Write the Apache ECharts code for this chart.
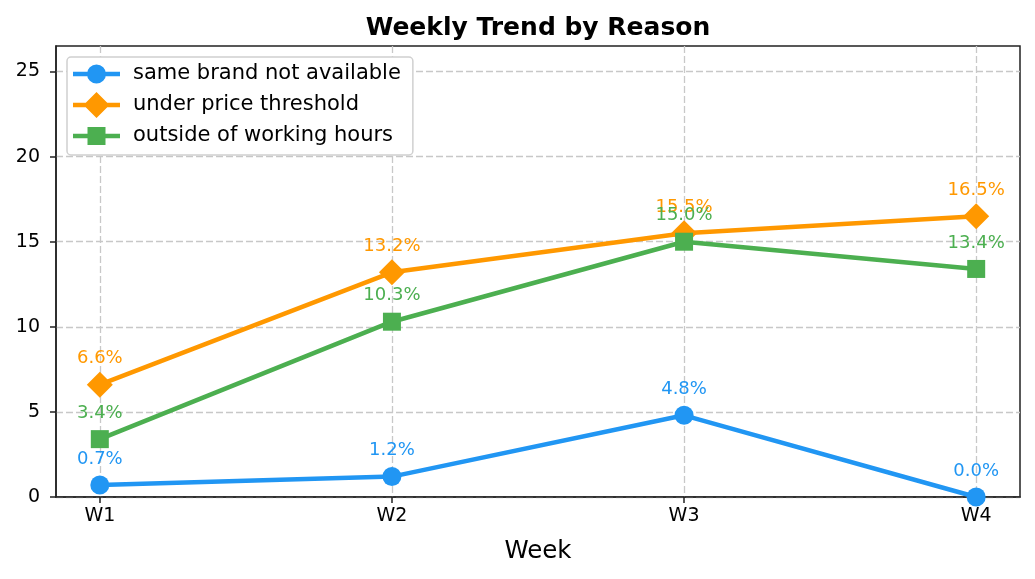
<!DOCTYPE html>
<html>
<head>
<meta charset="utf-8">
<script src="https://cdn.jsdelivr.net/npm/echarts@6/dist/echarts.min.js"></script>
<style>html,body{margin:0;padding:0;background:#fff}#c{width:1035px;height:579px}</style>
</head>
<body>
<div id="c"></div>
<script>
var weeks = ['W1', 'W2', 'W3', 'W4'];
var sameBrand = [0.7, 1.2, 4.8, 0.0];
var underPrice = [6.6, 13.2, 15.5, 16.5];
var outsideHours = [3.4, 10.3, 15.0, 13.4];
var yTicks = [0, 5, 10, 15, 20, 25];
var seriesNames = ['same brand not available', 'under price threshold', 'outside of working hours'];

var FONT = 'DejaVu Sans';
var colors = ['#2196F3', '#FF9800', '#4CAF50'];
var symbols = ['circle', 'diamond', 'rect'];
var sizes = [19, 26, 18];
var dataSets = [sameBrand, underPrice, outsideHours];
var xIdx = weeks.map(function (w, i) { return i; });

// legend icons: line + marker, all subpaths clockwise, in a 47x26 box
var ANCH = 'M0 0 L0.01 0 L0.01 0.01 Z M46.99 25.99 L47 25.99 L47 26 Z ';
var LINE = 'M0 10.75 L47 10.75 L47 15.25 L0 15.25 Z ';
var legendIcons = [
  'path://' + ANCH + LINE + 'M14 13 A9.5 9.5 0 1 1 33 13 A9.5 9.5 0 1 1 14 13 Z',
  'path://' + ANCH + LINE + 'M23.5 0 L36.5 13 L23.5 26 L10.5 13 Z',
  'path://' + ANCH + LINE + 'M14.5 4 L32.5 4 L32.5 22 L14.5 22 Z'
];

var chart = echarts.init(document.getElementById('c'), null, {renderer: 'canvas'});

var series = dataSets.map(function (arr, k) {
  return {
    name: seriesNames[k],
    type: 'line',
    data: arr.map(function (v, i) { return [i, v]; }),
    symbol: symbols[k],
    symbolSize: sizes[k],
    color: colors[k],
    lineStyle: {width: 4.5, color: colors[k]},
    itemStyle: {color: colors[k]},
    label: {
      show: true,
      position: 'inside',
      offset: [0, -26],
      color: colors[k],
      fontFamily: FONT,
      fontSize: 18,
      formatter: function (p) { return p.value[1].toFixed(1) + '%'; }
    },
    emphasis: {disabled: true}
  };
});

var option = {
  animation: false,
  backgroundColor: '#fff',
  title: {
    text: 'Weekly Trend by Reason',
    left: 533,
    textAlign: 'center',
    top: 11,
    textStyle: {fontFamily: FONT, fontSize: 25, fontWeight: 'bold', color: '#000'}
  },
  legend: {
    left: 67,
    top: 57,
    orient: 'vertical',
    itemWidth: 47,
    itemHeight: 26,
    itemGap: 5,
    padding: [4, 12, 6, 6],
    borderColor: '#d0d0d0',
    borderWidth: 1.5,
    borderRadius: 4,
    backgroundColor: '#fff',
    textStyle: {fontFamily: FONT, fontSize: 21, color: '#000', padding: [0, 0, 0, 8]},
    data: seriesNames.map(function (n, k) { return {name: n, icon: legendIcons[k]}; })
  },
  grid: {
    left: 56, right: 15, top: 46, bottom: 82,
    show: true, borderColor: '#222', borderWidth: 1.5, containLabel: false
  },
  xAxis: {
    type: 'value',
    min: -0.15,
    max: 3.15,
    name: 'Week',
    nameLocation: 'middle',
    nameGap: 42,
    nameTextStyle: {fontFamily: FONT, fontSize: 24.5, color: '#000'},
    axisLine: {show: true, onZero: false, lineStyle: {color: '#222', width: 1.5}},
    axisTick: {show: true, customValues: xIdx, length: 6, lineStyle: {color: '#222', width: 1.5}},
    axisLabel: {
      customValues: xIdx,
      fontFamily: FONT, fontSize: 19, color: '#000', margin: 10,
      formatter: function (v) { return weeks[Math.round(v)]; }
    },
    splitLine: {show: true, lineStyle: {color: '#c8c8c8', width: 1.3, type: [7, 3]}}
  },
  yAxis: {
    type: 'value',
    min: 0,
    max: 26.5,
    axisLine: {show: true, onZero: false, lineStyle: {color: '#222', width: 1.5}},
    axisTick: {show: true, customValues: yTicks, length: 6, lineStyle: {color: '#222', width: 1.5}},
    axisLabel: {customValues: yTicks, fontFamily: FONT, fontSize: 19, color: '#000', margin: 16},
    splitLine: {show: true, lineStyle: {color: '#c8c8c8', width: 1.3, type: [7, 3]}}
  },
  series: series
};
chart.setOption(option);
</script>
</body>
</html>
